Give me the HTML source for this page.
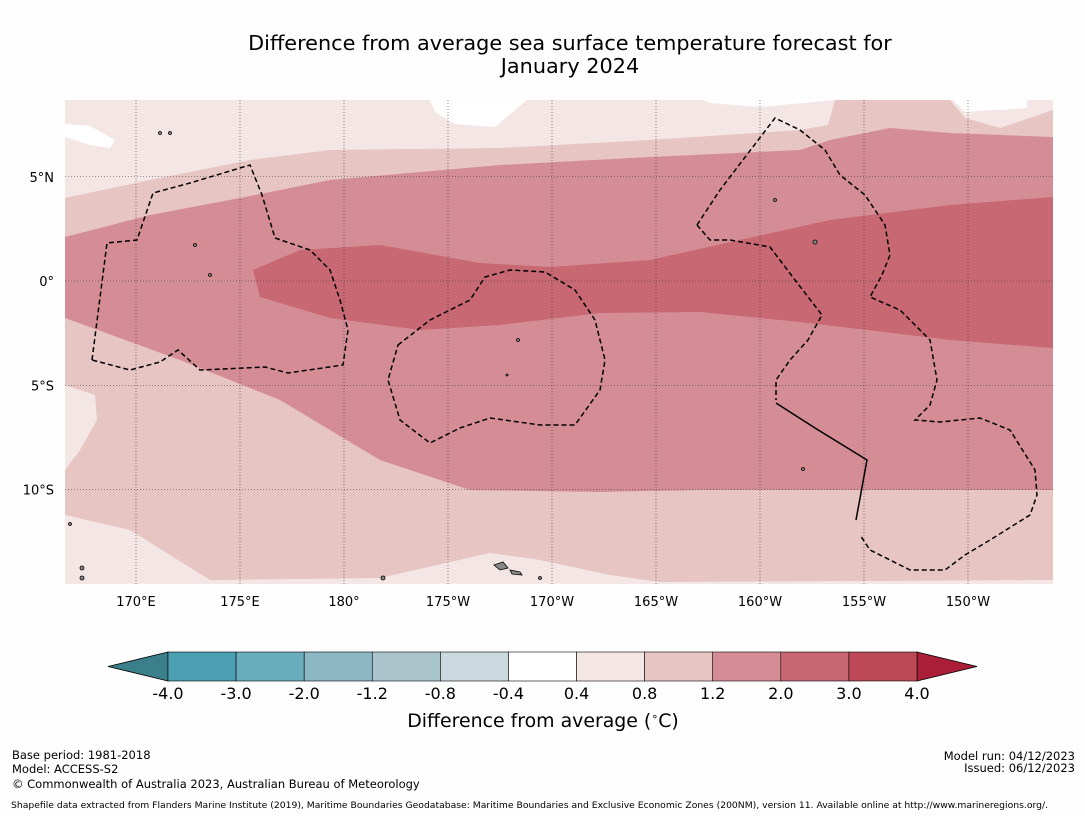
<!DOCTYPE html>
<html><head><meta charset="utf-8">
<style>
body{margin:0;background:#fefefe;width:1085px;height:816px;overflow:hidden;font-family:"DejaVu Sans","Liberation Sans",sans-serif;}
svg{position:absolute;left:0;top:0}
</style></head>
<body>
<svg width="1085" height="816" font-family="DejaVu Sans, Liberation Sans, sans-serif">
<text x="570" y="50" text-anchor="middle" font-size="20.8" fill="#000">Difference from average sea surface temperature forecast for</text>
<text x="570" y="73" text-anchor="middle" font-size="20.8" fill="#000">January 2024</text>
<defs><clipPath id="mapclip"><rect x="65" y="100" width="988" height="484"/></clipPath></defs>
<g clip-path="url(#mapclip)">
<rect x="65" y="100" width="988" height="484" fill="#f4e6e5"/>
<path d="M430,100 L435,112 L455,124 L495,127 L527,100 Z M703,100 L710,103 L760,107 L835,100 Z M953,100 L965,112 L990,110 L1000,110 L1027,108 L1027,100 Z M65,124 L90,126 L115,140 L110,148 L90,145 L65,137 Z" fill="#ffffff"/>
<path d="M65,198 L150,180 L250,160 L330,150 L500,148 L650,140 L800,130 L828,125 L835,100 L950,100 L965,118 L1000,128 L1053,110 L1053,580 L660,582 L610,575 L540,560 L490,553 L380,578 L210,580 L130,530 L65,515 L65,470 L80,450 L97,420 L95,395 L65,385 Z" fill="#e6c5c2"/>
<path d="M65,237 L150,215 L240,198 L330,180 L500,165 L650,157 L800,150 L830,140 L890,128 L950,133 L1053,137 L1053,490 L700,490 L600,492 L470,490 L380,460 L280,400 L180,360 L65,318 Z" fill="#d58d95"/>
<path d="M253,270 L300,250 L380,245 L480,263 L550,267 L650,260 L740,240 L830,220 L950,205 L1053,197 L1053,348 L950,340 L800,322 L700,312 L600,313 L500,325 L420,330 L330,318 L260,297 Z" fill="#c86872"/>
<g id="grid" stroke="#333" stroke-width="0.6" stroke-dasharray="1,2"></g>
<g fill="none" stroke="#000" stroke-width="1.5" stroke-dasharray="5,3">
<path d="M92,360 L107,243 L137,240 L153,193 L190,183 L250,165 L262,195 L275,238 L310,250 L330,270 L340,300 L348,330 L343,365 L288,373 L265,367 L200,370 L178,350 L160,362 L130,370 L92,360"/>
<path d="M398,345 L430,320 L470,300 L485,277 L510,270 L545,272 L575,290 L595,320 L605,360 L600,390 L575,425 L540,425 L490,418 L460,428 L430,443 L400,420 L388,380 Z"/>
<path d="M697,225 L720,190 L775,118 L800,130 L825,150 L840,175 L865,195 L885,225 L890,255 L882,275 L870,297 L900,310 L930,340 L937,380 L930,405 L915,420 L940,422 L980,418 L1010,430 L1035,470 L1037,495 L1030,515 L990,540 L965,555 L945,570 L910,570 L870,550 L860,535"/>
<path d="M697,225 L710,240 L730,240 L770,247 L795,280 L822,315 L808,340 L790,360 L776,380 L776,400"/>
</g>
<path d="M776,403 L815,428 L867,460 L856,520" fill="none" stroke="#000" stroke-width="1.5"/>
<g fill="#888" stroke="#000" stroke-width="0.8">
<path d="M494,565 L503,562 L508,568 L500,570 Z"/><path d="M510,570 L520,572 L522,575 L512,574 Z"/>
<circle cx="195" cy="245" r="1.5"/><circle cx="210" cy="275" r="1.5"/><circle cx="775" cy="200" r="1.5"/><circle cx="815" cy="242" r="2"/><circle cx="803" cy="469" r="1.5"/><circle cx="70" cy="524" r="1.5"/><circle cx="383" cy="578" r="2"/><circle cx="540" cy="578" r="1.5"/><circle cx="160" cy="133" r="1.5"/><circle cx="170" cy="133" r="1.5"/><circle cx="518" cy="340" r="1.5"/><circle cx="507" cy="375" r="1"/><circle cx="82" cy="568" r="2"/><circle cx="82" cy="578" r="2"/>
</g>
</g>
<g id="axislabels" font-size="13" fill="#000"></g>
<g id="cbar"></g>
<text x="543" y="727" text-anchor="middle" font-size="18.9">Difference from average (<tspan font-size="11" dy="-7">∘</tspan><tspan dy="7">C)</tspan></text>
<g font-size="11.5" fill="#000">
<text x="12" y="759">Base period: 1981-2018</text>
<text x="12" y="773">Model: ACCESS-S2</text>
<text x="12" y="788">© Commonwealth of Australia 2023, Australian Bureau of Meteorology</text>
<text x="1075" y="760" text-anchor="end">Model run: 04/12/2023</text>
<text x="1075" y="772" text-anchor="end">Issued: 06/12/2023</text>
<text x="11" y="808" font-size="8.6" textLength="1037" lengthAdjust="spacingAndGlyphs">Shapefile data extracted from Flanders Marine Institute (2019), Maritime Boundaries Geodatabase: Maritime Boundaries and Exclusive Economic Zones (200NM), version 11. Available online at http://www.marineregions.org/.</text>
</g>
</svg>
<script>
const lonLabels=["170°E","175°E","180°","175°W","170°W","165°W","160°W","155°W","150°W"];
const lonValues=[170,175,180,185,190,195,200,205,210];
const latLabels=["5°N","0°","5°S","10°S"];
const latValues=[5,0,-5,-10];
const cbLevels=["-4.0","-3.0","-2.0","-1.2","-0.8","-0.4","0.4","0.8","1.2","2.0","3.0","4.0"];
const cbColors=["#4aa0b2","#6aaebd","#8cb8c5","#aac6cc","#c9d9dd","#ffffff","#f4e6e5","#e6c5c2","#d58d95","#c86872","#bd4957"];
const cbLow="#3a7f8a", cbHigh="#ab1e38";
const NS="http://www.w3.org/2000/svg";
const xLon=l=>136+(l-170)*20.8;
const yLat=l=>281-l*20.85;
const grid=document.getElementById('grid'), al=document.getElementById('axislabels');
lonValues.forEach((v,i)=>{
 const ln=document.createElementNS(NS,'line');ln.setAttribute('x1',xLon(v));ln.setAttribute('x2',xLon(v));ln.setAttribute('y1',100);ln.setAttribute('y2',584);
 
 
 grid.appendChild(ln);
 const t=document.createElementNS(NS,'text');t.setAttribute('x',xLon(v));t.setAttribute('y',606);t.setAttribute('text-anchor','middle');t.textContent=lonLabels[i];
 
 
 al.appendChild(t);
});
latValues.forEach((v,i)=>{
 const ln=document.createElementNS(NS,'line');ln.setAttribute('x1',65);ln.setAttribute('x2',1053);ln.setAttribute('y1',yLat(v));ln.setAttribute('y2',yLat(v));
 
 
 grid.appendChild(ln);
 const t=document.createElementNS(NS,'text');t.setAttribute('x',54);t.setAttribute('y',yLat(v)+5);t.setAttribute('text-anchor','end');t.textContent=latLabels[i];
 
 
 al.appendChild(t);
});
const cb=document.getElementById('cbar');
const x0=168,x1=917,y0=652,h=29,w=(x1-x0)/cbColors.length;
let tri=document.createElementNS(NS,'polygon');tri.setAttribute('points',`${x0},${y0} ${x0},${y0+h} 108,${y0+h/2}`);tri.setAttribute('fill',cbLow);tri.setAttribute('stroke','#000');tri.setAttribute('stroke-width','0.8');


cb.appendChild(tri);
tri=document.createElementNS(NS,'polygon');tri.setAttribute('points',`${x1},${y0} ${x1},${y0+h} 977,${y0+h/2}`);tri.setAttribute('fill',cbHigh);tri.setAttribute('stroke','#000');tri.setAttribute('stroke-width','0.8');


cb.appendChild(tri);
cbColors.forEach((c,i)=>{
 const r=document.createElementNS(NS,'rect');r.setAttribute('x',x0+i*w);r.setAttribute('y',y0);r.setAttribute('width',w);r.setAttribute('height',h);r.setAttribute('fill',c);r.setAttribute('stroke','#000');r.setAttribute('stroke-width','0.6');
 
 
 cb.appendChild(r);
});
cbLevels.forEach((l,i)=>{
 const t=document.createElementNS(NS,'text');t.setAttribute('x',x0+i*w);t.setAttribute('y',699);t.setAttribute('text-anchor','middle');t.setAttribute('font-size','16');t.textContent=l;
 
 
 cb.appendChild(t);
});
</script>
</body></html>
